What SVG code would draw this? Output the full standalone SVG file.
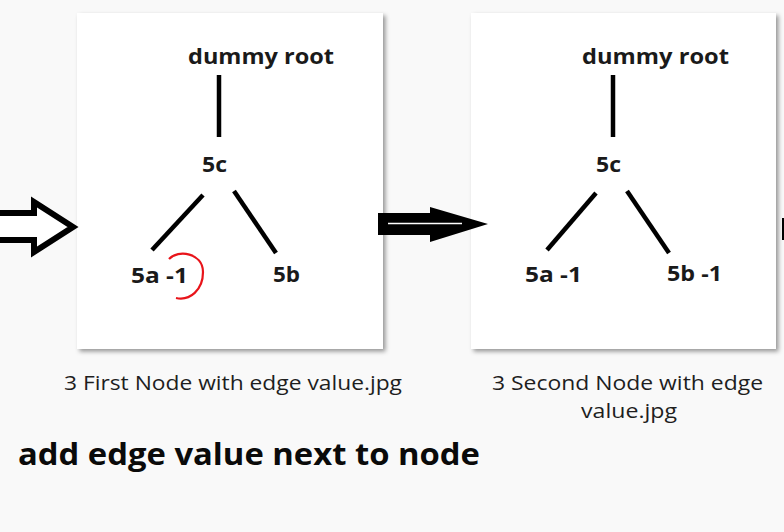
<svg xmlns="http://www.w3.org/2000/svg" width="784" height="532" viewBox="0 0 784 532">
<defs>
<filter id="sh" x="-5%" y="-5%" width="115%" height="115%">
<feDropShadow dx="2.5" dy="2.5" stdDeviation="2" flood-color="#000" flood-opacity="0.4"/>
</filter>
</defs>
<style>
.card{fill:#fff;filter:url(#sh)}
.nd{font-family:"Open Sans","Liberation Sans",sans-serif;font-weight:bold;font-size:21px;fill:#1a1a1a}
.edge{stroke:#000;stroke-width:4.5;stroke-linecap:butt;fill:none}
.cap{font-family:"Open Sans","Liberation Sans",sans-serif;font-size:19.5px;fill:#1e1e1e}
.head{font-family:"Open Sans","Liberation Sans",sans-serif;font-weight:bold;font-size:30px;fill:#0a0a0a}
</style>
<rect width="784" height="532" fill="#f9f9f9"/>
<rect class="card" x="77" y="13" width="306" height="336"/>
<rect class="card" x="471" y="13" width="305" height="336"/>

<g id="connectors">
<line class="edge" x1="219" y1="75" x2="219" y2="137"/>
<line class="edge" x1="203" y1="195" x2="152" y2="250"/>
<line class="edge" x1="234" y1="191" x2="276" y2="253"/>
<line class="edge" x1="613" y1="75" x2="613" y2="137"/>
<line class="edge" x1="596" y1="193" x2="547" y2="250"/>
<line class="edge" x1="627" y1="191" x2="669" y2="253"/>
</g>

<g id="arrows">
<path d="M-6,213 H34 V202 L73,227 L34,252 V240 H-6 Z" fill="#fff" stroke="#000" stroke-width="6" stroke-linejoin="miter"/>
<path d="M378,213 H430 V207 L488,224 L430,242 V235 H378 Z" fill="#000"/>
<line x1="388" y1="223.5" x2="462" y2="223.5" stroke="#fff" stroke-width="1.5"/>
<rect x="782" y="218" width="2" height="22" fill="#000"/>
</g>

<g id="n1-root"><text class="nd" x="188" y="64" textLength="146" lengthAdjust="spacingAndGlyphs">dummy root</text></g>
<g id="n1-5c"><text class="nd" x="202" y="172" textLength="25" lengthAdjust="spacingAndGlyphs">5c</text></g>
<g id="n1-5a"><text class="nd" x="131" y="283" textLength="57" lengthAdjust="spacingAndGlyphs">5a -1</text>
<path d="M169,259 C178,249 203,253 203,272 C203,290 190,301 176,298" fill="none" stroke="#e8141a" stroke-width="2.2"/></g>
<g id="n1-5b"><text class="nd" x="273" y="282" textLength="27" lengthAdjust="spacingAndGlyphs">5b</text></g>

<g id="n2-root"><text class="nd" x="582" y="64" textLength="147" lengthAdjust="spacingAndGlyphs">dummy root</text></g>
<g id="n2-5c"><text class="nd" x="596" y="172" textLength="25" lengthAdjust="spacingAndGlyphs">5c</text></g>
<g id="n2-5a"><text class="nd" x="525" y="282" textLength="57" lengthAdjust="spacingAndGlyphs">5a -1</text></g>
<g id="n2-5b"><text class="nd" x="667" y="281" textLength="55" lengthAdjust="spacingAndGlyphs">5b -1</text></g>

<text class="cap" x="64" y="390" textLength="338" lengthAdjust="spacingAndGlyphs">3 First Node with edge value.jpg</text>
<text class="cap" x="492" y="390" textLength="271" lengthAdjust="spacingAndGlyphs">3 Second Node with edge</text>
<text class="cap" x="581" y="418" textLength="96" lengthAdjust="spacingAndGlyphs">value.jpg</text>
<text class="head" x="18" y="465" textLength="462" lengthAdjust="spacingAndGlyphs">add edge value next to node</text>
</svg>
